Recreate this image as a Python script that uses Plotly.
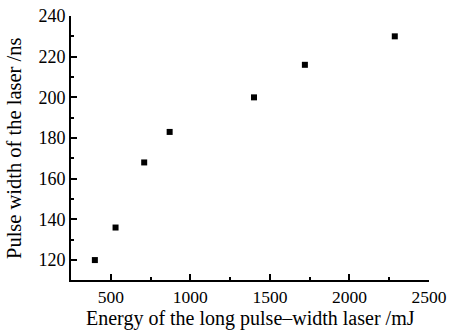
import plotly.graph_objects as go

energy_mJ = [400, 530, 710, 870, 1400, 1720, 2285]
pulse_width_ns = [120, 136, 168, 183, 200, 216, 230]

x_title = "Energy of the long pulse\u2013width laser /mJ"
y_title = "Pulse width of the laser /ns"

font_family = "Liberation Serif"

fig = go.Figure()
fig.add_trace(go.Scatter(
    x=energy_mJ, y=pulse_width_ns, mode="markers",
    marker=dict(symbol="square", size=6, color="black"),
    showlegend=False,
))

fig.update_layout(
    width=450, height=330,
    margin=dict(l=71, r=21, t=16, b=50, autoexpand=False),
    paper_bgcolor="white", plot_bgcolor="white",
    font=dict(family=font_family, color="black", size=18),
)
fig.update_xaxes(
    range=[250, 2500], showgrid=False, zeroline=False, automargin=False,
    showline=True, linecolor="black", linewidth=2,
    ticks="inside", ticklen=6, tickwidth=1.5, tickcolor="black",
    tick0=500, dtick=500,
    minor=dict(ticks="inside", ticklen=3, tickwidth=1.5, tickcolor="black", dtick=250, tick0=250),
    tickfont=dict(size=17.5),
)
fig.update_yaxes(
    range=[110.2, 240], showgrid=False, zeroline=False, automargin=False,
    showline=True, linecolor="black", linewidth=2,
    ticks="inside", ticklen=6, tickwidth=1.5, tickcolor="black",
    tick0=120, dtick=20,
    minor=dict(ticks="inside", ticklen=3, tickwidth=1.5, tickcolor="black", dtick=10),
    tickfont=dict(size=18),
)
fig.add_annotation(
    text=x_title, xref="paper", yref="paper", x=0.5, y=0, yshift=-38.5,
    xanchor="center", yanchor="middle", showarrow=False,
    font=dict(size=20),
)
fig.add_annotation(
    text=y_title, xref="paper", yref="paper", x=0, y=0.5, xshift=-57,
    xanchor="center", yanchor="middle", showarrow=False, textangle=-90,
    font=dict(size=20.5),
)

fig.write_html(
    "out.html",
    config={"displayModeBar": False},
    post_script="document.body.style.margin='0';document.body.style.overflow='hidden';",
)
